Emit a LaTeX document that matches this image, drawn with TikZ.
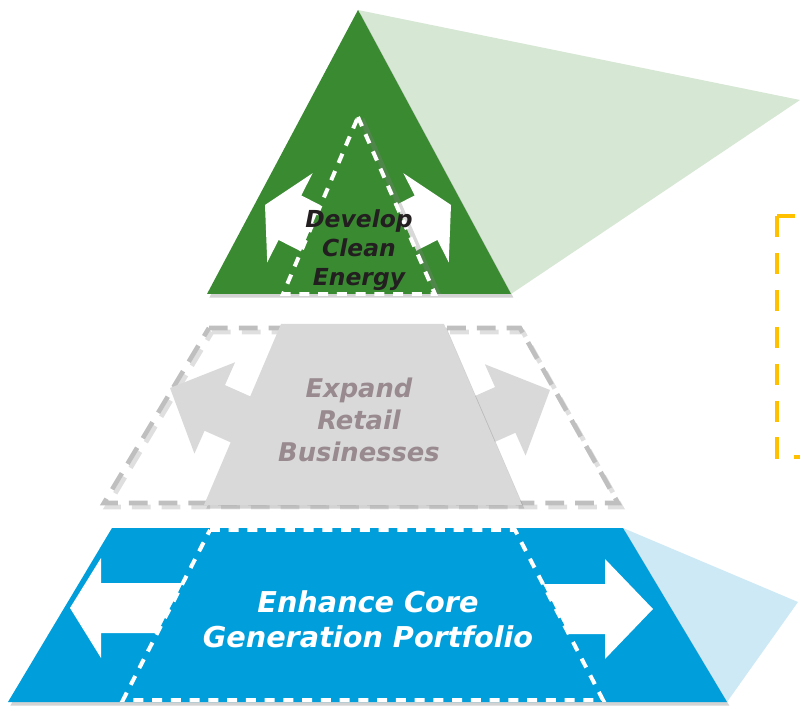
\documentclass[tikz,border=0pt]{standalone}
\usepackage{fontspec}
\newfontfamily\pyrfont{DejaVu Sans}
\usetikzlibrary{shadows}

\definecolor{pyrgreen}{RGB}{58,138,50}
\definecolor{fangreen}{RGB}{214,231,212}
\definecolor{pyrgray}{RGB}{217,217,217}
\definecolor{dashgray}{RGB}{191,191,191}
\definecolor{graytext}{RGB}{152,138,143}
\definecolor{pyrblue}{RGB}{0,158,219}
\definecolor{fanblue}{RGB}{205,233,245}
\definecolor{gold}{RGB}{255,192,0}
\definecolor{darktext}{RGB}{35,31,32}

% block arrow: tip, rotation, head length, colour
\newcommand{\growarrow}[4]{%
  \fill[#4, shift={#1}, rotate=#2] (0,0) -- (#3,-50) -- (#3,-25) -- (#3+95,-25)
    -- (#3+95,25) -- (#3,25) -- (#3,50) -- cycle;}

\begin{document}
\begin{tikzpicture}[x=0.03cm, y=-0.03cm,
    label/.style={align=center},
    shade/.style={drop shadow={opacity=.35, shadow xshift=2pt, shadow yshift=-3pt}},
    sideshade/.style={drop shadow={opacity=.3, shadow xshift=5pt, shadow yshift=0pt}},
    whitedash/.style={draw=white, line width=3.4pt, dash pattern=on 8.5pt off 7.5pt},
    graydash/.style={line width=4pt, dash pattern=on 16pt off 9.4pt}]
	\useasboundingbox (0,0) rectangle (800,706);
	\clip (0,0) rectangle (800,706);

	% fans behind the pyramid
	\fill[fangreen] (358,10) -- (800,100) -- (511,294) -- cycle;
	\fill[fanblue] (623,528) -- (798,602) -- (727,702) -- cycle;
	\draw[gold, line width=4pt, dash pattern=on 18pt off 13.5pt] (777,216) rectangle (840,457);

	% top: develop clean energy
	\fill[pyrgreen, shade] (358,10) -- (511,294) -- (207,294) -- cycle;
	\growarrow{(265,205)}{-27}{28}{white}
	\growarrow{(451,205)}{207}{28}{white}
	\filldraw[fill=pyrgreen, whitedash, sideshade] (358,117) -- (435,294) -- (283,294) -- cycle;
	\node (develop) [label, text=darktext, font=\pyrfont\bfseries\itshape\fontsize{20}{24.5}\selectfont] at (359,250) {Develop\\Clean\\Energy};

	% middle: expand retail businesses
	\draw[graydash, black!25, opacity=.5, shift={(3,4)}] (209,328) -- (520,328) -- (618,503) -- (104,503) -- cycle;
	\draw[graydash, dashgray] (209,328) -- (520,328) -- (618,503) -- (104,503) -- cycle;
	\growarrow{(170,388)}{-24}{49}{pyrgray}
	\growarrow{(550,390)}{204}{49}{pyrgray}
	\fill[pyrgray, shade] (281,324) -- (444,324) -- (522,505) -- (204,505) -- cycle;
	\node (expand) [label, text=graytext, font=\pyrfont\bfseries\itshape\fontsize{22}{27.3}\selectfont] at (359,420) {Expand\\Retail\\Businesses};

	% bottom: enhance core generation portfolio
	\fill[pyrblue, shade] (112,528) -- (623,528) -- (727,702) -- (8,702) -- cycle;
	\growarrow{(70,608)}{0}{31}{white}
	\growarrow{(653,609)}{180}{48}{white}
	\filldraw[fill=pyrblue, whitedash] (210,530) -- (515,530) -- (603,700) -- (123,700) -- cycle;
	\node (enhance) [label, text=white, font=\pyrfont\bfseries\itshape\fontsize{24.5}{30}\selectfont] at (368,619) {Enhance Core\\Generation Portfolio};
\end{tikzpicture}
\end{document}
